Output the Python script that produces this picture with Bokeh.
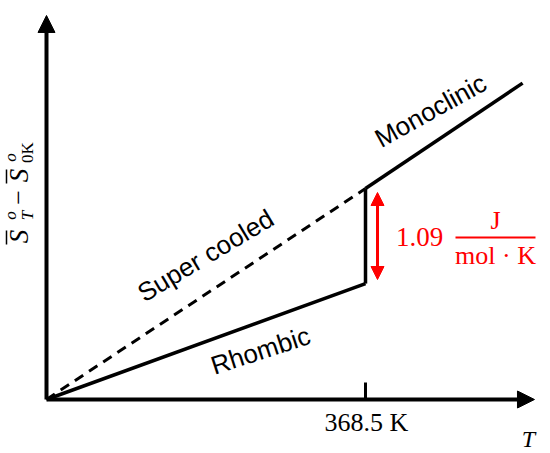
import math
from bokeh.plotting import figure
from bokeh.models import Range1d, Label, Arrow, NormalHead
from bokeh.embed import file_html
from bokeh.resources import INLINE

# ---- data (schematic entropy vs temperature) ----
T_tr = 368.5                      # transition temperature, K
rhombic_T = [0.0, 368.5]
rhombic_S = [0.0, 1.33]
mono_T = [368.5, 550.0]
mono_S = [2.42, 3.63]
super_T = [0.0, 368.5]
super_S = [0.0, 2.42]
jump_T = [368.5, 368.5]
jump_S = [1.33, 2.42]
delta_S = "1.09"
tick_labels = ["368.5 K"]
T_axis_end = 563.7
S_axis_end = 4.406

# ---- layout helpers (page pixel -> data), used only to place annotations ----
SX = 319.0 / 368.5
SY = 87.16
def X(px):
    return (px - 46.0) / SX
def Y(py):
    return (399.0 - py) / SY

W, H = 550, 453
p = figure(width=W, height=H, output_backend="svg", toolbar_location=None,
           x_range=Range1d(X(0), X(W)), y_range=Range1d(Y(H), Y(0)),
           min_border=0)
p.axis.visible = False
p.grid.visible = False
p.outline_line_color = None
p.background_fill_color = "white"
p.border_fill_color = "white"

# axes arrows
p.add_layout(Arrow(end=NormalHead(size=17, fill_color="black", line_color="black", line_width=1),
                   x_start=0, y_start=0, x_end=T_axis_end, y_end=0,
                   line_width=4, line_color="black"))
p.add_layout(Arrow(end=NormalHead(size=17, fill_color="black", line_color="black", line_width=1),
                   x_start=0, y_start=0, x_end=0, y_end=S_axis_end,
                   line_width=4, line_color="black"))

# tick at transition temperature
p.segment(x0=[T_tr], y0=[0], x1=[T_tr], y1=[Y(382)], line_width=3, line_color="black")

# curves
p.line(rhombic_T, rhombic_S, line_width=3.5, line_color="black")
p.line(mono_T, mono_S, line_width=3.5, line_color="black")
p.line(super_T, super_S, line_width=3, line_color="black", line_dash="10 7")
p.line(jump_T, jump_S, line_width=3.5, line_color="black")

# red double arrow
ax = X(377)
p.add_layout(Arrow(start=NormalHead(size=13, fill_color="red", line_color="red", line_width=1),
                   end=NormalHead(size=13, fill_color="red", line_color="red", line_width=1),
                   x_start=ax, y_start=Y(279), x_end=ax, y_end=Y(192),
                   line_width=3, line_color="red"))

SERIF = "Liberation Serif"
SANS = "Liberation Sans"

def lab(text, px, py, size, font=SERIF, style="normal", color="black", angle=0.0,
        align="center", baseline="middle"):
    p.add_layout(Label(x=X(px), y=Y(py), text=text, text_font=font,
                       text_font_size=f"{size}px", text_font_style=style,
                       text_color=color, angle=angle, text_align=align,
                       text_baseline=baseline))

# red delta label
lab(delta_S, 419, 236, 27, color="red")
lab("J", 495, 220, 26, color="red")
p.segment(x0=[X(455)], y0=[Y(237)], x1=[X(535)], y1=[Y(237)], line_width=2, line_color="red")
lab("mol \u00b7 K", 495, 255, 26, color="red")

# axis texts
lab(tick_labels[0], 366, 422, 26)
lab("T", 528, 438, 24, style="italic")

# phase labels
lab("Super cooled", 205, 255, 26, font=SANS, angle=math.radians(31))
lab("Rhombic", 260, 350, 26, font=SANS, angle=math.radians(18))
lab("Monoclinic", 430, 110, 26, font=SANS, angle=math.radians(29))

# y-axis label pieces (rotated)
r = math.pi / 2
lab("S", 18, 236, 27, style="italic", angle=r)
lab("o", 10, 215, 17, style="italic", angle=r)
lab("T", 27, 215, 17, style="italic", angle=r)
lab("\u2212", 18, 197, 26, angle=r)
lab("S", 18, 175, 27, style="italic", angle=r)
lab("o", 10, 157, 17, style="italic", angle=r)
lab("0K", 27, 152, 17, angle=r)
# overbars of the two S symbols
p.segment(x0=[X(6), X(6)], y0=[Y(244), Y(183)], x1=[X(6), X(6)], y1=[Y(230), Y(169)],
          line_width=1.5, line_color="black")

open("out.html", "w").write(file_html(p, INLINE))
